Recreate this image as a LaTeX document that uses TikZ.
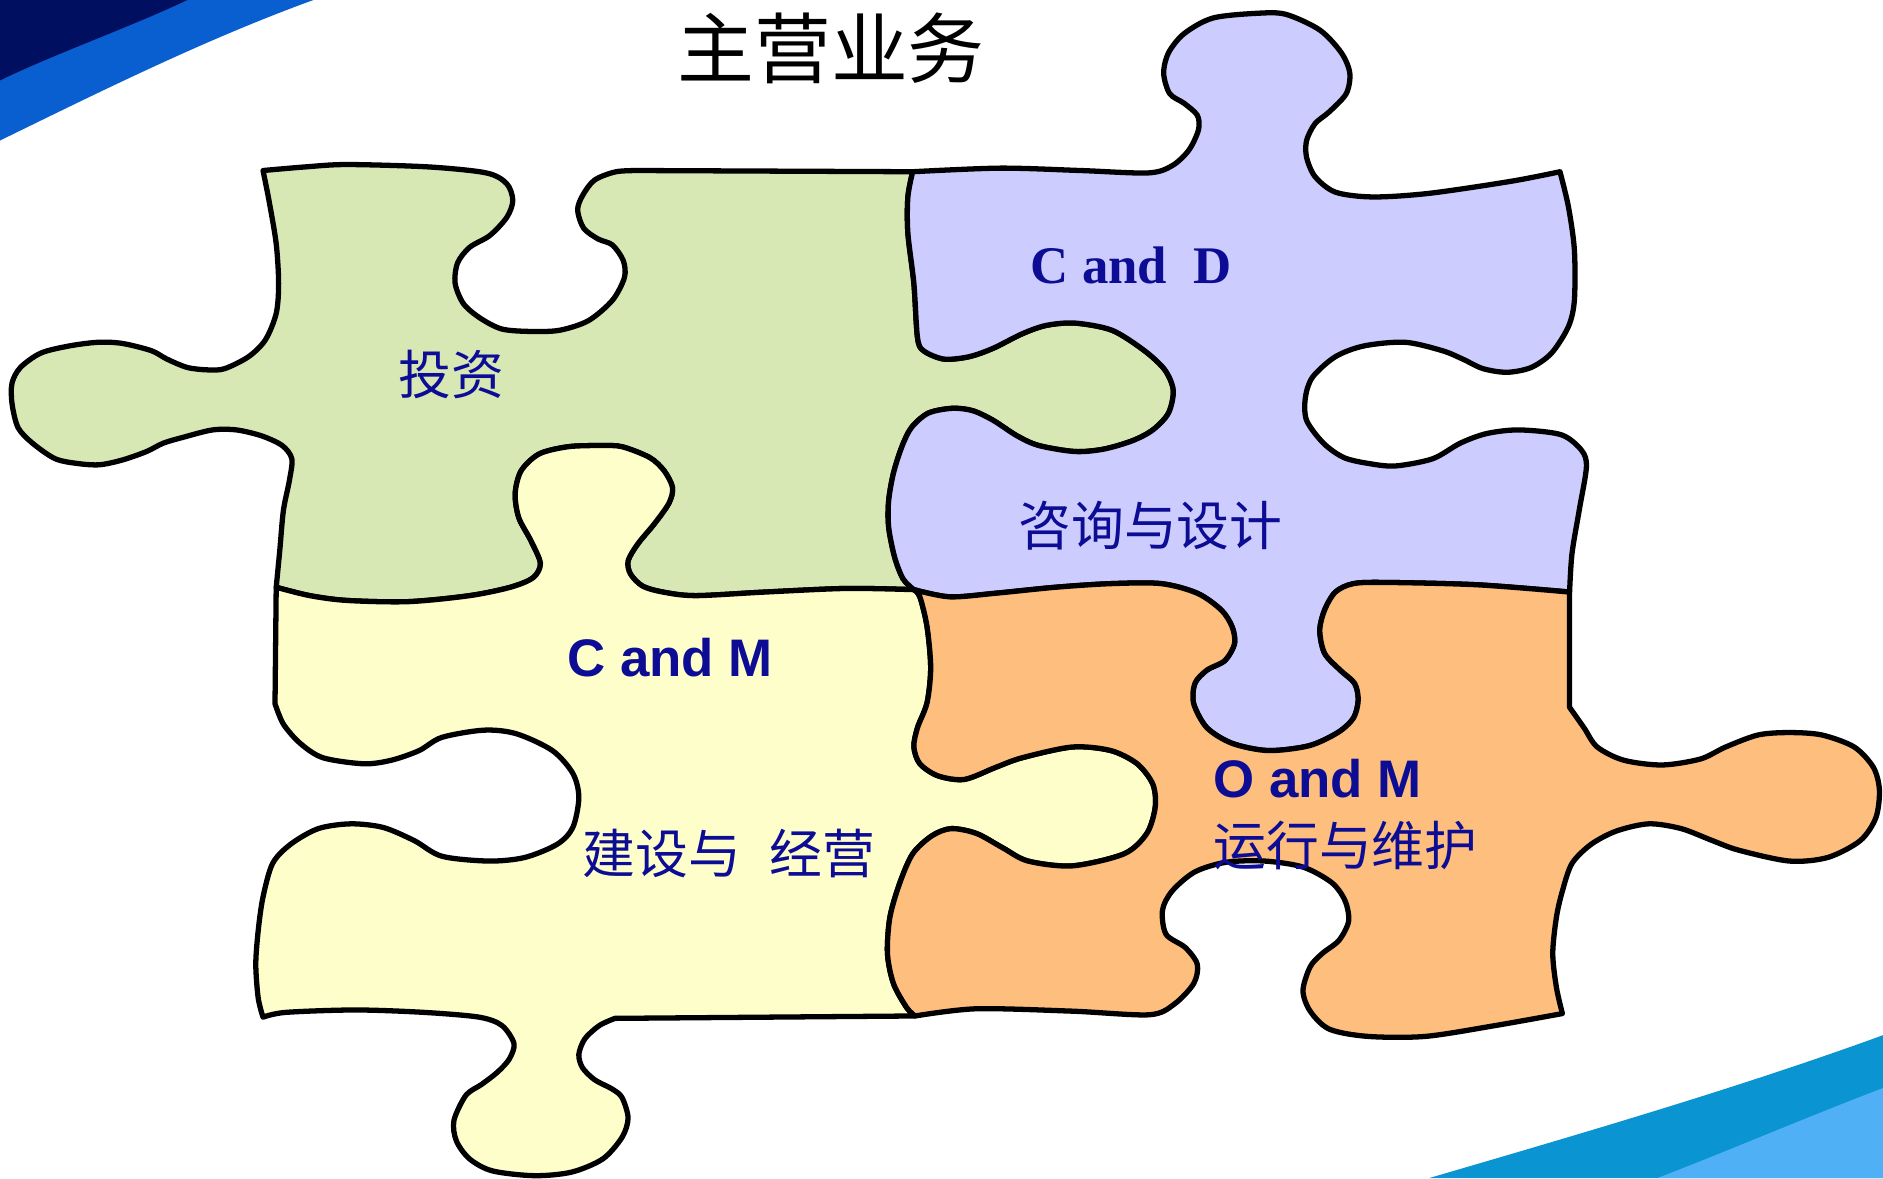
\documentclass[tikz,border=0pt]{standalone}
\usepackage{fontspec}
\setmainfont{Liberation Serif}
\newfontfamily\cjk{Noto Sans CJK SC}
\newfontfamily\lsans{Liberation Sans}
\definecolor{greenpc}{HTML}{D7E8B5}
\definecolor{lavpc}{HTML}{CCCCFF}
\definecolor{yellowpc}{HTML}{FEFECB}
\definecolor{orangepc}{HTML}{FDBE7E}
\definecolor{labelblue}{HTML}{0C0C94}
\definecolor{bandnavy}{HTML}{000F5F}
\definecolor{bandblue}{HTML}{0A5FD0}
\definecolor{bandcyan}{HTML}{0A94D2}
\definecolor{bandlight}{HTML}{50B0F5}
\newcommand\lblsize{\fontsize{22}{24}\selectfont}

\begin{document}
\begin{tikzpicture}[x=0.5pt,y=-0.5pt,
    piece/.style={draw=black,line width=2.2pt,line join=round},
    lbl/.style={text=labelblue,inner sep=0pt}]
  \useasboundingbox (0,0) rectangle (1568,981);
  \fill[white] (0,0) rectangle (1568,981);

  % corner bands
  \fill[bandblue] (0,0) -- (261,0) .. controls (170,33) and (80,78) .. (0,117) -- cycle;
  \fill[bandnavy] (0,0) -- (156,0) .. controls (110,22) and (45,45) .. (0,67) -- cycle;
  \fill[bandcyan] (1190,981) .. controls (1320,943) and (1450,905) .. (1568,862) -- (1568,981) -- cycle;
  \fill[bandlight] (1380,981) .. controls (1440,958) and (1500,932) .. (1568,906) -- (1568,981) -- cycle;

  % investment piece
  \draw[piece,fill=greenpc]
    plot[smooth] coordinates {(219,142) (254,139) (289,137) (357,139) (405,144) (422,153) (427,167) (422,181) (408,196) (391,206) (381,219) (379,236) (386,253) (400,265) (418,274) (442,276) (466,275) (490,267) (510,250) (520,231) (519,217) (510,204) (498,199) (486,190) (481,175) (485,163) (495,150) (513,143) (533,142)}
    -- (760,143)
    -- plot[smooth] coordinates {(760,143) (756,164) (756,194) (761,236) (764,281) (769,292) (786,299) (807,297) (827,290) (851,278) (871,271) (895,269) (926,275) (953,292) (970,308) (977,325) (973,344) (960,358) (943,367) (919,374) (895,376) (865,371) (847,363) (827,350) (810,342) (793,340) (773,344) (759,356) (751,372) (744,394) (740,417) (740,439) (745,464) (752,482) (761,491)}
    -- plot[smooth] coordinates {(761,491) (705,490) (637,493) (579,496) (552,493) (535,488) (525,478) (523,467) (531,453) (545,436) (557,419) (560,406) (553,392) (541,381) (518,372) (500,371) (473,372) (449,378) (434,392) (429,411) (432,431) (442,450) (450,469) (444,481) (425,489) (391,496) (340,501) (289,500) (258,496) (230,489)}
    -- plot[smooth] coordinates {(230,489) (233,458) (236,425) (241,400) (243,382) (235,371) (218,363) (197,358) (177,358) (153,364) (136,369) (122,376) (102,383) (83,387) (65,386) (46,382) (27,369) (15,356) (10,336) (10,319) (17,306) (34,294) (58,288) (82,285) (102,286) (126,292) (139,299) (156,306) (173,308) (187,307) (207,297) (221,283) (230,261) (232,236) (230,203) (224,167) (219,142)}
    -- cycle;

  % consulting piece
  \draw[piece,fill=lavpc]
    plot[smooth] coordinates {(760,143) (833,140) (900,142) (956,144) (976,138) (990,125) (998,108) (997,96) (986,86) (974,78) (969,61) (973,44) (986,28) (1010,15) (1048,11) (1071,12) (1099,25) (1117,44) (1124,61) (1121,78) (1107,93) (1095,103) (1088,117) (1088,131) (1095,147) (1112,160) (1143,164) (1190,161) (1258,151) (1299,143)}
    -- plot[smooth] coordinates {(1299,143) (1306,172) (1311,208) (1311,250) (1306,272) (1292,294) (1275,306) (1255,310) (1235,307) (1218,299) (1201,292) (1170,285) (1136,288) (1112,297) (1093,314) (1087,331) (1088,350) (1102,369) (1119,381) (1140,386) (1162,388) (1193,382) (1216,369) (1238,361) (1265,358) (1300,362) (1317,375) (1321,389) (1315,425) (1309,461) (1307,493)}
    -- plot[smooth] coordinates {(1307,493) (1231,487) (1154,485) (1127,486) (1112,493) (1103,508) (1099,525) (1103,544) (1116,558) (1128,569) (1131,583) (1127,598) (1114,610) (1090,621) (1056,625) (1026,619) (1005,606) (994,586) (995,569) (1005,558) (1020,550) (1028,536) (1026,522) (1017,508) (997,494) (967,486) (925,486) (879,489) (829,494) (791,497) (761,491)}
    -- plot[smooth] coordinates {(761,491) (752,482) (745,464) (740,439) (740,417) (744,394) (751,372) (759,356) (773,344) (793,340) (810,342) (827,350) (847,363) (865,371) (895,376) (919,374) (943,367) (960,358) (973,344) (977,325) (970,308) (953,292) (926,275) (895,269) (871,271) (851,278) (827,290) (807,297) (786,299) (769,292) (764,281) (761,236) (756,194) (756,164) (760,143)}
    -- cycle;

  % construction piece
  \draw[piece,fill=yellowpc]
    plot[smooth] coordinates {(230,489) (258,496) (289,500) (340,501) (391,496) (425,489) (444,481) (450,469) (442,450) (432,431) (429,411) (434,392) (449,378) (473,372) (500,371) (518,372) (541,381) (553,392) (560,406) (557,419) (545,436) (531,453) (523,467) (525,478) (535,488) (552,493) (579,496) (637,493) (705,490) (761,491)}
    -- plot[smooth] coordinates {(761,491) (766,497) (772,522) (775,556) (772,585) (764,606) (761,622) (766,636) (781,646) (803,649) (829,639) (851,631) (893,622) (925,625) (947,636) (960,653) (962,672) (955,694) (936,711) (893,721) (856,717) (835,706) (813,694) (792,690) (776,696) (760,711) (749,736) (741,764) (739,794) (744,819) (755,839) (762,846)}
    -- (512,848)
    -- plot[smooth] coordinates {(512,848) (499,854) (487,865) (482,878) (485,889) (495,899) (510,907) (518,914) (523,931) (518,947) (502,965) (476,976) (445,979) (410,975) (391,965) (380,950) (378,933) (388,912) (401,903) (414,893) (424,882) (428,869) (418,854) (399,847) (353,843) (296,841) (238,843) (219,847)}
    -- plot[smooth] coordinates {(219,847) (215,831) (213,803) (215,775) (219,747) (227,719) (242,703) (265,690) (292,686) (319,689) (345,700) (368,713) (407,717) (437,714) (464,703) (477,689) (482,664) (477,644) (460,625) (430,611) (403,608) (368,614) (349,625) (326,633) (303,636) (269,631) (250,619) (236,603) (229,586)}
    -- cycle;

  % operation piece
  \draw[piece,fill=orangepc]
    plot[smooth] coordinates {(761,491) (791,497) (829,494) (879,489) (925,486) (967,486) (997,494) (1017,508) (1026,522) (1028,536) (1020,550) (1005,558) (995,569) (994,586) (1005,606) (1026,619) (1056,625) (1090,621) (1114,610) (1127,598) (1131,583) (1128,569) (1116,558) (1103,544) (1099,525) (1103,508) (1112,493) (1127,486) (1154,485) (1231,487) (1307,493)}
    -- (1307,589)
    -- plot[smooth] coordinates {(1307,589) (1319,606) (1330,622) (1352,633) (1384,637) (1416,632) (1437,622) (1464,612) (1490,610) (1517,612) (1544,622) (1560,639) (1565,658) (1562,681) (1549,700) (1522,714) (1490,717) (1448,708) (1426,700) (1400,690) (1373,686) (1346,692) (1325,703) (1309,719) (1301,742) (1296,764) (1293,794) (1296,822) (1301,844)}
    -- plot[smooth] coordinates {(1301,844) (1245,854) (1187,863) (1139,863) (1107,857) (1091,842) (1085,825) (1091,805) (1101,794) (1115,783) (1123,767) (1120,750) (1109,735) (1085,722) (1053,717) (1021,718) (995,726) (976,742) (968,758) (971,778) (987,789) (997,803) (994,819) (978,836) (957,845) (893,842) (813,840) (762,846)}
    -- plot[smooth] coordinates {(762,846) (755,839) (744,819) (739,794) (741,764) (749,736) (760,711) (776,696) (792,690) (813,694) (835,706) (856,717) (893,721) (936,711) (955,694) (962,672) (960,653) (947,636) (925,625) (893,622) (851,631) (829,639) (803,649) (781,646) (766,636) (761,622) (764,606) (772,585) (775,556) (772,522) (766,497) (761,491)}
    -- cycle;

  % labels
  \node (title) at (692,40) {\cjk\fontsize{32}{34}\selectfont 主营业务};
  \node[lbl] (invest) at (376,312) {\cjk\lblsize 投资};
  \node[lbl] (cd) at (942,221) {\lblsize\bfseries C and~~D};
  \node[lbl] (consult) at (958,438) {\cjk\lblsize 咨询与设计};
  \node[lbl] (cm) at (558,548) {\lsans\bfseries\lblsize C and M};
  \node[lbl] (build) at (607,711) {\cjk\lblsize 建设与\hspace{12pt}经营};
  \node[lbl,anchor=west] (om) at (1010,648) {\lsans\bfseries\lblsize O and M};
  \node[lbl,anchor=west] (operate) at (1010,704) {\cjk\lblsize 运行与维护};
\end{tikzpicture}
\end{document}
